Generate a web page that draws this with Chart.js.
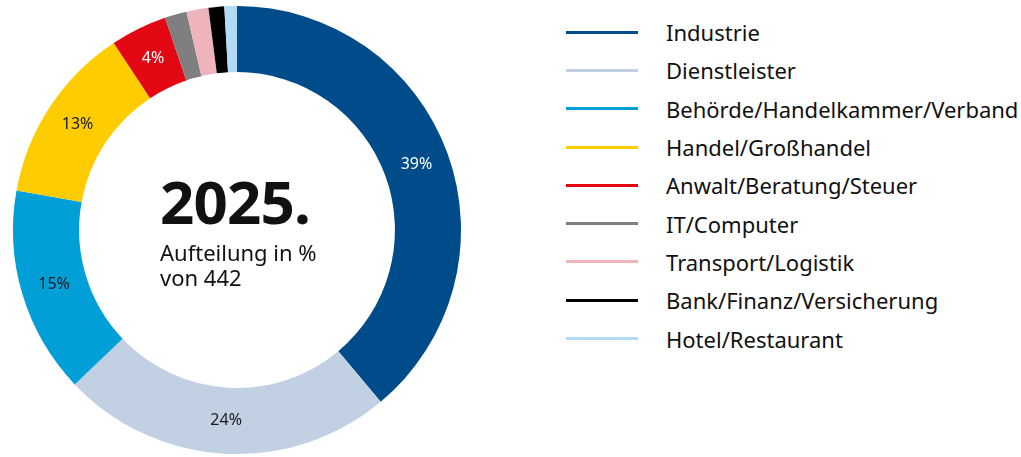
<!DOCTYPE html>
<html lang="de">
<head>
<meta charset="utf-8">
<script src="https://cdn.jsdelivr.net/npm/chart.js@4/dist/chart.umd.min.js"></script>
<style>
  html, body { margin: 0; padding: 0; background: #fff; overflow: hidden; }
  body { width: 1021px; height: 457px; position: relative; font-family: "Noto Sans", "Open Sans", sans-serif; color: #111; }
  #wrap { position: absolute; left: 0; top: 0; width: 474px; height: 457px; }
  #center { position: absolute; left: 160px; top: 165px; pointer-events: none; }
  #center .year { font-weight: 700; font-size: 60px; line-height: 72px; letter-spacing: -0.8px; }
  #center .sub { font-size: 22px; line-height: 25px; margin-top: 3px; }
  #legend { position: absolute; left: 566px; top: 13px; list-style: none; margin: 0; padding: 0; }
  #legend li { display: flex; align-items: center; height: 38.3px; font-size: 22px; white-space: nowrap; }
  #legend .line { display: inline-block; width: 72px; height: 3px; margin-right: 28px; }
</style>
</head>
<body>
<div id="wrap"><canvas id="chart-branchen"></canvas></div>
<div id="center">
  <div class="year">2025.</div>
  <div class="sub">Aufteilung in %<br>von 442</div>
</div>
<ul id="legend"></ul>
<script>
const categories = ["Industrie", "Dienstleister", "Behörde/Handelkammer/Verband", "Handel/Großhandel",
  "Anwalt/Beratung/Steuer", "IT/Computer", "Transport/Logistik", "Bank/Finanz/Versicherung", "Hotel/Restaurant"];
// Anzahl Nennungen (gesamt 442)
const counts = [172, 106, 66, 57, 18, 7, 7, 5, 4];
const colors = ["#004c8a", "#c1d0e2", "#009fd8", "#ffcc00", "#e30613", "#7f7f7f", "#efb4bb", "#000000", "#b2dcf5"];
const labelColors = ["#fff", "#1a1a1a", "#1a1a1a", "#1a1a1a", "#fff", "#fff", "#fff", "#fff", "#fff"];

const total = counts.reduce((a, b) => a + b, 0);

// Prozentwerte in die Segmente schreiben (nur ab 3%)
const pctLabels = {
  id: "pctLabels",
  afterDatasetsDraw(chart) {
    const ctx = chart.ctx;
    const meta = chart.getDatasetMeta(0);
    ctx.save();
    ctx.font = "16px 'Noto Sans', sans-serif";
    ctx.textAlign = "center";
    ctx.textBaseline = "middle";
    meta.data.forEach((arc, i) => {
      const pct = Math.round(counts[i] / total * 100);
      if (pct < 3) return;
      const p = arc.tooltipPosition();
      ctx.fillStyle = labelColors[i];
      ctx.fillText(pct + "%", p.x, p.y);
    });
    ctx.restore();
  }
};

const chart = new Chart(document.getElementById("chart-branchen").getContext("2d"), {
  type: "doughnut",
  data: {
    labels: categories,
    datasets: [{ data: counts, backgroundColor: colors, borderWidth: 0 }]
  },
  options: {
    responsive: true, maintainAspectRatio: false, animation: false,
    cutout: "70.5%",
    layout: { padding: { top: 6, bottom: 3, left: 13, right: 13 } },
    plugins: { legend: { display: false }, tooltip: { enabled: false } }
  },
  plugins: [pctLabels]
});

// Legende als Liste
const legend = document.getElementById("legend");
categories.forEach((name, i) => {
  const li = document.createElement("li");
  li.innerHTML = `<span class="line" style="background:${colors[i]}"></span><span>${name}</span>`;
  legend.appendChild(li);
});
</script>
</body>
</html>
